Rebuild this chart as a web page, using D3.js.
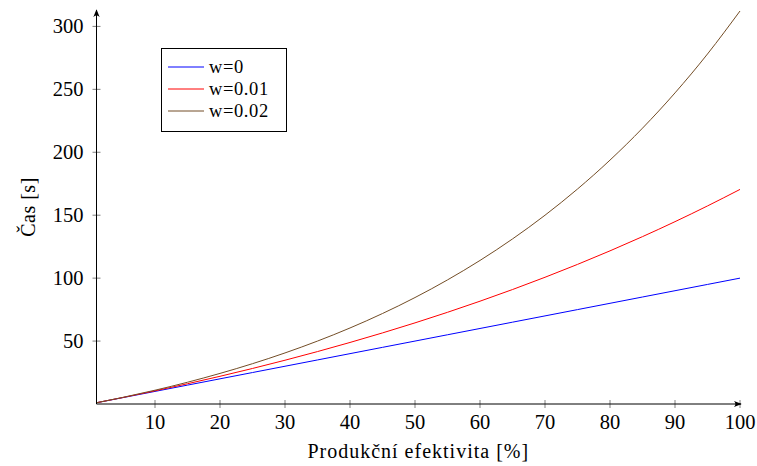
<!DOCTYPE html>
<html><head><meta charset="utf-8">
<script src="https://cdn.jsdelivr.net/npm/d3@7"></script>
<style>body{margin:0;background:#fff}svg{display:block}</style>
</head><body>
<svg id="c" width="757" height="466"></svg>
<script>
const xs = [1,5,10,15,20,25,30,35,40,45,50,55,60,65,70,75,80,85,90,95,100];
const w0 = [1,5,10,15,20,25,30,35,40,45,50,55,60,65,70,75,80,85,90,95,100];
const w001 = [1.00,5.10,10.46,16.10,22.02,28.24,34.78,41.66,48.89,56.48,64.46,72.85,81.67,90.94,100.68,110.91,121.67,132.98,144.86,157.36,170.48];
const w002 = [1.00,5.20,10.95,17.29,24.30,32.03,40.57,49.99,60.40,71.89,84.58,98.59,114.05,131.13,149.98,170.79,193.77,219.14,247.16,278.08,312.23];
const seriesNames = ["w=0","w=0.01","w=0.02"];
const seriesColors = ["#0000ff","#ff0000","#734d26"];
const xTicks = [10,20,30,40,50,60,70,80,90,100];
const yTicks = [50,100,150,200,250,300];

const FF = '"Liberation Serif"';
const svg = d3.select("#c");
const x = d3.scaleLinear().domain([1,100]).range([96.5,740]);
const y = d3.scaleLinear().domain([0,312.23]).range([404,11]);

const defs = svg.append("defs");
defs.append("marker").attr("id","arr").attr("viewBox","0 0 10 10").attr("refX",9).attr("refY",5)
  .attr("markerWidth",8).attr("markerHeight",8).attr("markerUnits","userSpaceOnUse").attr("orient","auto")
  .append("path").attr("d","M0,1 Q4,5 0,9 L10,5 Z").attr("fill","#000");

// ticks
const gx = svg.append("g");
xTicks.forEach(t=>{
  gx.append("line").attr("x1",x(t)).attr("x2",x(t)).attr("y1",y(0)-4).attr("y2",y(0)+4).attr("stroke","#808080").attr("stroke-width",1);
  gx.append("text").attr("x",x(t)).attr("y",y(0)+25).attr("text-anchor","middle")
    .style("font-family",FF).style("font-size","20.5px").text(t);
});
yTicks.forEach(t=>{
  gx.append("line").attr("x1",x(1)-4).attr("x2",x(1)+4).attr("y1",y(t)).attr("y2",y(t)).attr("stroke","#808080").attr("stroke-width",1);
  gx.append("text").attr("x",x(1)-13).attr("y",y(t)+7).attr("text-anchor","end")
    .style("font-family",FF).style("font-size","20.5px").text(t);
});

// series
const data = [w0,w001,w002];
const line = d3.line().x((d,i)=>x(xs[i])).y(d=>y(d)).curve(d3.curveMonotoneX);
data.forEach((s,k)=>{
  svg.append("path").datum(s).attr("d",line).attr("fill","none").attr("stroke",seriesColors[k]).attr("stroke-width",1);
});

// axes
svg.append("line").attr("x1",x(1)).attr("x2",x(100)+1).attr("y1",y(0)).attr("y2",y(0))
  .attr("stroke","#000").attr("stroke-width",1).attr("marker-end","url(#arr)");
svg.append("line").attr("x1",x(1)).attr("x2",x(1)).attr("y1",y(0)).attr("y2",y(312.23)-1)
  .attr("stroke","#000").attr("stroke-width",1).attr("marker-end","url(#arr)");

// labels
svg.append("text").attr("x",(x(1)+x(100))/2).attr("y",458).attr("text-anchor","middle")
  .style("font-family",FF).style("font-size","20px").style("letter-spacing","1px").text("Produkční efektivita [%]");
svg.append("text").attr("transform","translate(35,207) rotate(-90)").attr("text-anchor","middle")
  .style("font-family",FF).style("font-size","20px").style("letter-spacing","0.5px").text("Čas [s]");

// legend
const lg = svg.append("g");
lg.append("rect").attr("x",161.5).attr("y",48.5).attr("width",125).attr("height",83)
  .attr("fill","#fff").attr("stroke","#000").attr("stroke-width",1);
seriesNames.forEach((n,k)=>{
  const yy = 67 + k*22;
  lg.append("line").attr("x1",168).attr("x2",204).attr("y1",yy).attr("y2",yy).attr("stroke",seriesColors[k]).attr("stroke-width",1);
  lg.append("text").attr("x",209).attr("y",yy+6).style("font-family",FF).style("font-size","18.5px").style("letter-spacing","0.6px").text(n);
});
</script>
</body></html>
